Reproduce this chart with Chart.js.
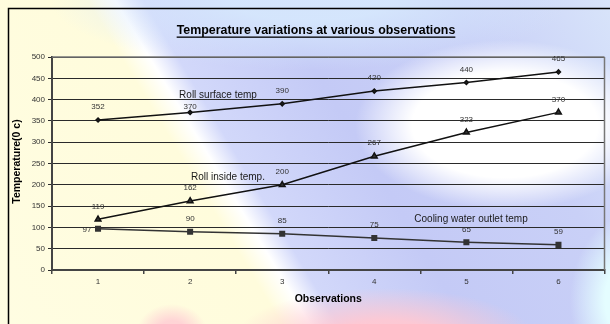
<!DOCTYPE html>
<html>
<head>
<meta charset="utf-8">
<script src="https://cdn.jsdelivr.net/npm/chart.js@4/dist/chart.umd.min.js"></script>
<style>
  html, body { margin:0; padding:0; }
  body {
    width:610px; height:324px; overflow:hidden;
    background:
      radial-gradient(ellipse 35px 28px at 172px 332px, rgba(255,205,212,0.85) 40%, rgba(255,210,218,0) 100%),
      radial-gradient(ellipse 150px 50px at 385px 338px, rgba(255,200,210,0.95) 35%, rgba(255,210,220,0) 100%),
      radial-gradient(ellipse 150px 85px at 505px 125px, #ffffff 62%, rgba(255,255,255,0) 100%),
      radial-gradient(ellipse 70px 90px at 640px 300px, #e4fdff 50%, rgba(228,253,255,0) 100%),
      radial-gradient(ellipse 260px 70px at 310px 0px, rgba(214,232,253,0.9) 30%, rgba(214,232,253,0) 100%),
      linear-gradient(59deg, #fffde2 0%, #fffcdc 35%, #ffffff 38.5%, #d2d8fa 42%, #c4caf6 58%, #c9d0f7 80%, #d8e4fa 100%);
  }
  #wrap { position:relative; width:610px; height:324px; }
  canvas { display:block; }
</style>
</head>
<body>
<div id="wrap"><canvas id="c" width="610" height="324"></canvas></div>
<script>
const categories = ['1', '2', '3', '4', '5', '6'];
const rollSurface = [352, 370, 390, 420, 440, 465];
const rollInside = [119, 162, 200, 267, 323, 370];
const coolingWater = [97, 90, 85, 75, 65, 59];
const yTicks = [0, 50, 100, 150, 200, 250, 300, 350, 400, 450, 500];
const seriesNames = ['Roll surface temp', 'Roll inside temp.', 'Cooling water outlet temp'];
const chartTitle = 'Temperature variations at various observations';
const yTitle = 'Temperature(0 c)';
const xTitle = 'Observations';

const FONT = '"Liberation Sans", Arial, sans-serif';

const decor = {
  id: 'decor',
  beforeDraw(chart) {
    const ctx = chart.ctx;
    ctx.save();
    ctx.strokeStyle = '#000';
    ctx.lineWidth = 1.5;
    ctx.strokeRect(8.5, 8.5, 640, 340);
    ctx.restore();
  },
  afterDraw(chart) {
    const ctx = chart.ctx;
    const a = chart.chartArea;
    ctx.save();
    // right and top border of plot area
    ctx.strokeStyle = '#777';
    ctx.lineWidth = 1.5;
    ctx.beginPath();
    ctx.moveTo(a.right, a.top);
    ctx.lineTo(a.right, a.bottom);
    ctx.moveTo(a.left, a.top);
    ctx.lineTo(a.right, a.top);
    ctx.stroke();

    // Chart title, underlined
    ctx.fillStyle = '#000';
    ctx.font = 'bold 12.4px ' + FONT;
    ctx.textAlign = 'center';
    ctx.textBaseline = 'middle';
    const tx = 316, ty = 31;
    ctx.fillText(chartTitle, tx, ty);
    const w = ctx.measureText(chartTitle).width;
    ctx.fillRect(tx - w / 2, ty + 5.5, w, 1.3);

    // axis titles
    ctx.font = 'bold 10.5px ' + FONT;
    ctx.fillText(xTitle, (a.left + a.right) / 2, 299);
    ctx.save();
    ctx.translate(17, (a.top + a.bottom) / 2 - 2);
    ctx.rotate(-Math.PI / 2);
    ctx.fillText(yTitle, 0, 0);
    ctx.restore();

    // series name annotations
    ctx.font = '10px ' + FONT;
    ctx.fillStyle = '#1a1a1a';
    ctx.fillText(seriesNames[0], 218, 95);
    ctx.fillText(seriesNames[1], 228, 177);
    ctx.fillText(seriesNames[2], 471, 219);

    // data labels
    ctx.font = '8px ' + FONT;
    ctx.fillStyle = '#333';
    chart.data.datasets.forEach((ds, di) => {
      const meta = chart.getDatasetMeta(di);
      meta.data.forEach((pt, i) => {
        let x = pt.x, y = pt.y - 13;
        if (di === 2 && i === 0) { x = pt.x - 11; y = pt.y + 1; }
        if (di === 0 && i === 1) { y = pt.y - 6; }
        ctx.fillText(String(ds.data[i]), x, y);
      });
    });
    ctx.restore();
  }
};

new Chart(document.getElementById('c'), {
  type: 'line',
  data: {
    labels: categories,
    datasets: [
      { label: seriesNames[0], data: rollSurface, borderColor: '#111', backgroundColor: '#222',
        borderWidth: 1.5, pointStyle: 'rectRot', pointRadius: 2, tension: 0 },
      { label: seriesNames[1], data: rollInside, borderColor: '#111', backgroundColor: '#333',
        borderWidth: 1.5, pointStyle: 'triangle', pointRadius: 3.3, tension: 0 },
      { label: seriesNames[2], data: coolingWater, borderColor: '#333', backgroundColor: '#333',
        borderWidth: 1.5, pointStyle: 'rect', pointRadius: 3.2, tension: 0 }
    ]
  },
  options: {
    responsive: false,
    animation: false,
    devicePixelRatio: 1,
    layout: { padding: { top: 57, left: 0, right: 4, bottom: 0 } },
    plugins: { legend: { display: false }, title: { display: false }, tooltip: { enabled: false } },
    elements: { point: { borderWidth: 1, borderColor: '#222' } },
    scales: {
      x: {
        type: 'category',
        offset: true,
        afterFit(s) { s.height = 54; },
        grid: { drawOnChartArea: false, drawTicks: true, tickLength: 4, offset: true, color: '#444', lineWidth: 1.5 },
        border: { color: '#444', width: 2 },
        ticks: { color: '#333', font: { family: FONT, size: 8 }, padding: 3 }
      },
      y: {
        min: 0, max: 500,
        afterFit(s) { s.width = 52; },
        afterBuildTicks(s) { s.ticks = yTicks.map(v => ({ value: v })); },
        grid: { color: '#2a2a2a', lineWidth: 1, tickLength: 4 },
        border: { color: '#444', width: 2 },
        ticks: { color: '#333', font: { family: FONT, size: 8 }, padding: 3 }
      }
    }
  },
  plugins: [decor]
});
</script>
</body>
</html>
